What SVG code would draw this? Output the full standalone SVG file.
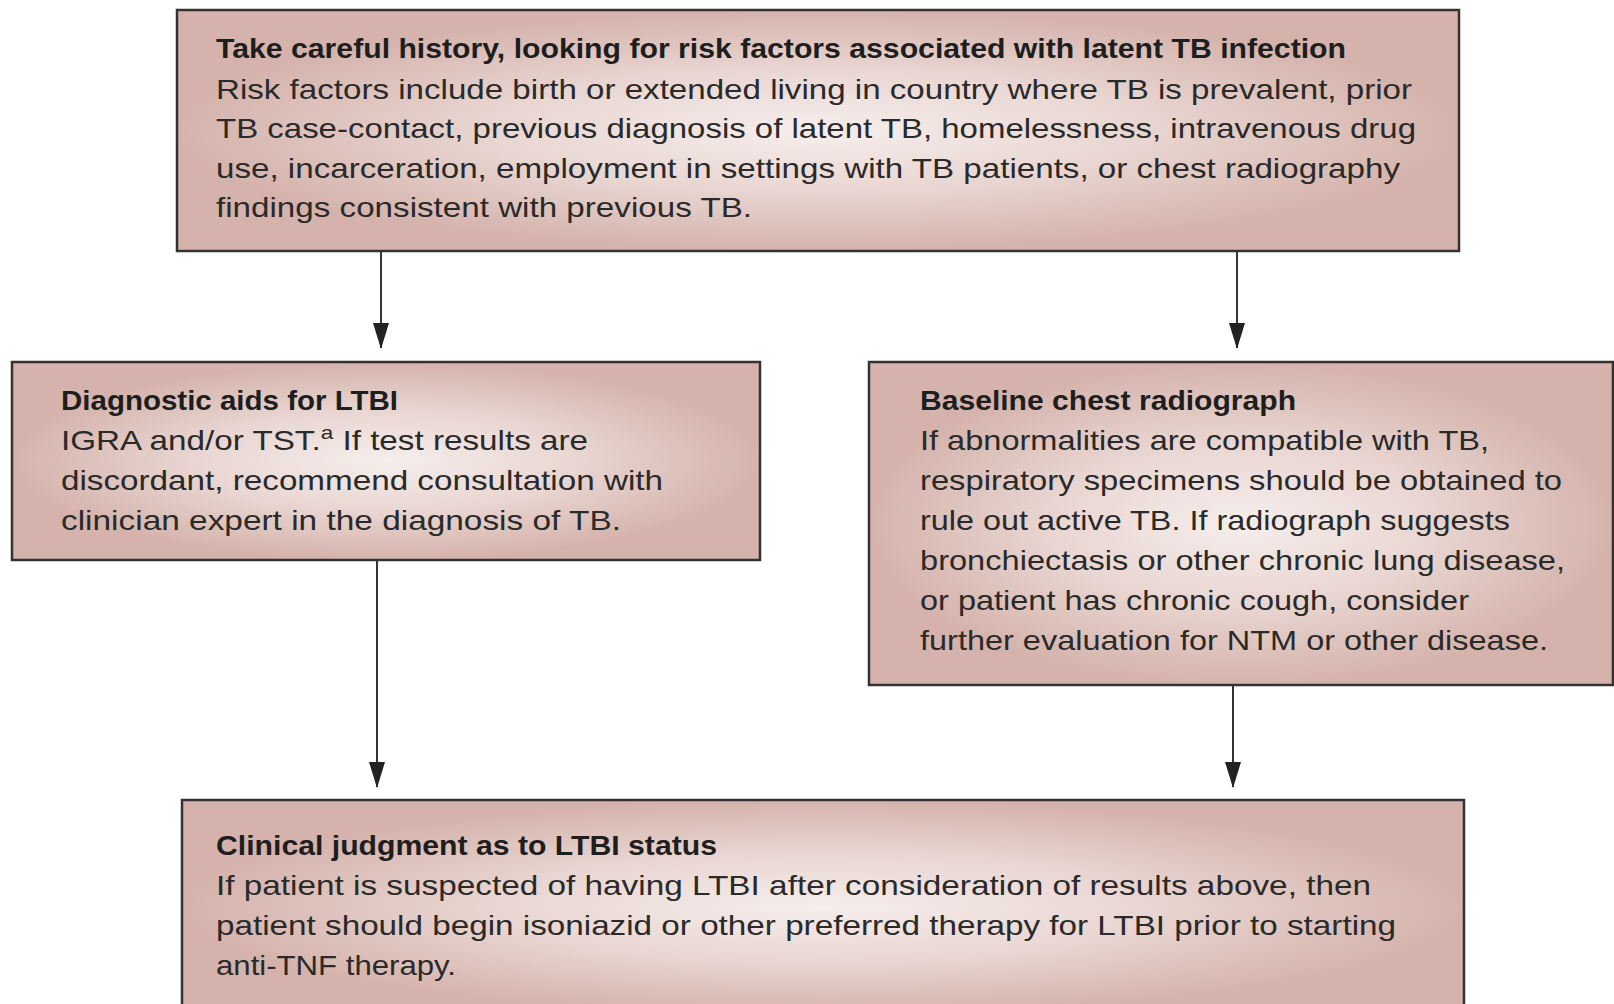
<svg xmlns="http://www.w3.org/2000/svg" width="1614" height="1004" viewBox="0 0 1614 1004">
<defs>
<radialGradient id="g" cx="0.5" cy="0.5" r="0.5">
<stop offset="0" stop-color="#f6eeec"/>
<stop offset="0.5" stop-color="#e9d6d2"/>
<stop offset="1" stop-color="#d5b3ac"/>
</radialGradient>
<marker id="ah" markerUnits="userSpaceOnUse" markerWidth="26" markerHeight="16" refX="25" refY="8" orient="auto" viewBox="0 0 26 16">
<path d="M0,0 L26,8 L0,16 Z" fill="#222"/>
</marker>
</defs>
<style>
.box{fill:url(#g);stroke:#333;stroke-width:2.5}
.t{font-family:"Liberation Sans",Arial,sans-serif;font-size:28px;fill:#2a2a2a}
.b{font-weight:bold;fill:#1e1e1e}
.c{stroke:#333;stroke-width:2;fill:none;marker-end:url(#ah)}
</style>
<rect width="1614" height="1004" fill="#ffffff"/>
<g id="connectors">
<line class="c" x1="381" y1="251" x2="381" y2="348"/>
<line class="c" x1="1237" y1="251" x2="1237" y2="348"/>
<line class="c" x1="377" y1="561" x2="377" y2="787"/>
<line class="c" x1="1233" y1="686" x2="1233" y2="787"/>
</g>
<g id="node-history">
<rect class="box" x="177" y="10" width="1282" height="241"/>
<text class="t b" x="216" y="58" textLength="1130" lengthAdjust="spacingAndGlyphs">Take careful history, looking for risk factors associated with latent TB infection</text>
<text class="t" x="216" y="99" textLength="1196" lengthAdjust="spacingAndGlyphs">Risk factors include birth or extended living in country where TB is prevalent, prior</text>
<text class="t" x="216" y="138" textLength="1200" lengthAdjust="spacingAndGlyphs">TB case-contact, previous diagnosis of latent TB, homelessness, intravenous drug</text>
<text class="t" x="216" y="178" textLength="1184" lengthAdjust="spacingAndGlyphs">use, incarceration, employment in settings with TB patients, or chest radiography</text>
<text class="t" x="216" y="217" textLength="536" lengthAdjust="spacingAndGlyphs">findings consistent with previous TB.</text>
</g>
<g id="node-diagnostic">
<rect class="box" x="12" y="362" width="748" height="198"/>
<text class="t b" x="61" y="410" textLength="337" lengthAdjust="spacingAndGlyphs">Diagnostic aids for LTBI</text>
<text class="t" x="61" y="450" textLength="527" lengthAdjust="spacingAndGlyphs">IGRA and/or TST.<tspan font-size="19" dy="-11">a</tspan><tspan dy="11"> If test results are</tspan></text>
<text class="t" x="61" y="490" textLength="602" lengthAdjust="spacingAndGlyphs">discordant, recommend consultation with</text>
<text class="t" x="61" y="530" textLength="560" lengthAdjust="spacingAndGlyphs">clinician expert in the diagnosis of TB.</text>
</g>
<g id="node-radiograph">
<rect class="box" x="869" y="362" width="744" height="323"/>
<text class="t b" x="920" y="410" textLength="376" lengthAdjust="spacingAndGlyphs">Baseline chest radiograph</text>
<text class="t" x="920" y="450" textLength="569" lengthAdjust="spacingAndGlyphs">If abnormalities are compatible with TB,</text>
<text class="t" x="920" y="490" textLength="642" lengthAdjust="spacingAndGlyphs">respiratory specimens should be obtained to</text>
<text class="t" x="920" y="530" textLength="590" lengthAdjust="spacingAndGlyphs">rule out active TB. If radiograph suggests</text>
<text class="t" x="920" y="570" textLength="645" lengthAdjust="spacingAndGlyphs">bronchiectasis or other chronic lung disease,</text>
<text class="t" x="920" y="610" textLength="549" lengthAdjust="spacingAndGlyphs">or patient has chronic cough, consider</text>
<text class="t" x="920" y="650" textLength="628" lengthAdjust="spacingAndGlyphs">further evaluation for NTM or other disease.</text>
</g>
<g id="node-judgment">
<rect class="box" x="182" y="800" width="1282" height="215"/>
<text class="t b" x="216" y="855" textLength="501" lengthAdjust="spacingAndGlyphs">Clinical judgment as to LTBI status</text>
<text class="t" x="216" y="895" textLength="1155" lengthAdjust="spacingAndGlyphs">If patient is suspected of having LTBI after consideration of results above, then</text>
<text class="t" x="216" y="935" textLength="1180" lengthAdjust="spacingAndGlyphs">patient should begin isoniazid or other preferred therapy for LTBI prior to starting</text>
<text class="t" x="216" y="975" textLength="240" lengthAdjust="spacingAndGlyphs">anti-TNF therapy.</text>
</g>
</svg>
